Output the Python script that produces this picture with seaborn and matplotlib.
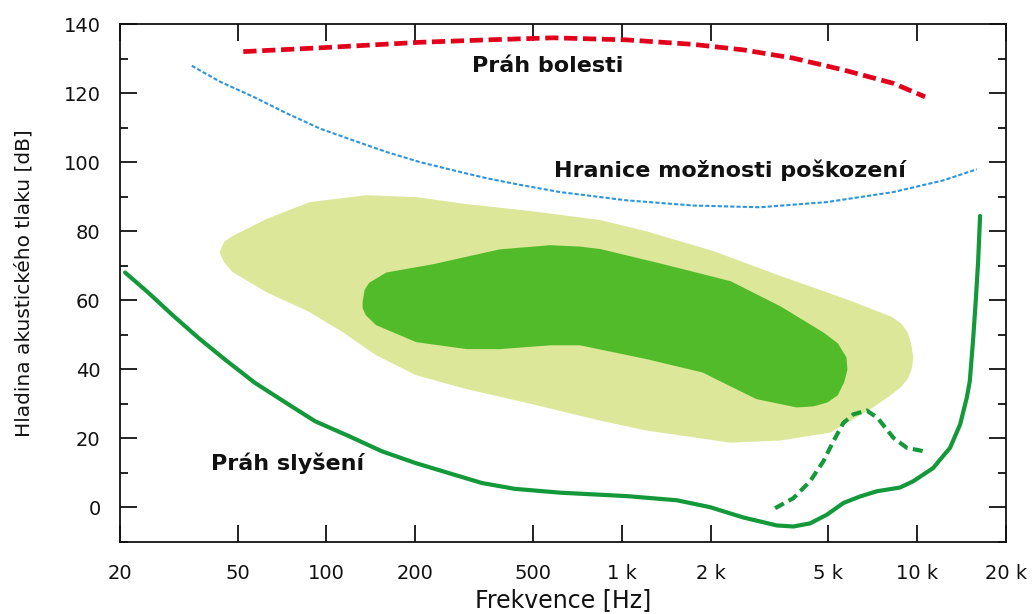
import numpy as np
import pandas as pd
import matplotlib
matplotlib.use("Agg")
import matplotlib.pyplot as plt
from matplotlib.ticker import FixedLocator, NullLocator, MultipleLocator
import seaborn as sns

# values (frequency in Hz, level in dB)
pain_f = [52.3, 95.1, 207, 349, 587, 1040, 1748, 2582, 3811, 5628, 8312, 10640]
pain_db = [132.0, 133.1, 134.7, 135.4, 136.0, 135.4, 134.1, 132.5, 130.1, 126.7, 122.8, 118.9]

damage_f = [35.0, 43.6, 56.6, 73.4, 95.1, 123, 160, 207, 269, 349, 452, 618, 1040, 1748,
            2940, 4946, 8312, 12280, 15920]
damage_db = [127.9, 123.3, 118.9, 114.1, 109.7, 106.3, 102.9, 100.0, 97.6, 95.3, 93.4, 91.3,
             88.9, 87.4, 86.9, 88.4, 91.3, 94.7, 97.9]

hear_f = [20.8, 24.9, 29.9, 36.8, 45.3, 57.3, 74.3, 91.5, 119, 154, 200, 259, 336, 435, 618,
          1040, 1536, 1990, 2582, 3349, 3811, 4341, 4946, 5628, 6411, 7304, 8758, 9700,
          11320, 12930, 13990, 14730, 15080, 15460, 15800, 16100, 16340]
hear_db = [68.0, 62.2, 55.9, 49.1, 42.8, 36.0, 29.8, 24.9, 20.6, 16.2, 12.8, 9.9, 7.0, 5.3, 4.2,
           3.2, 2.0, 0.0, -3.0, -5.3, -5.6, -4.7, -2.2, 1.2, 3.1, 4.6, 5.7, 7.5,
           11.3, 17.2, 24.0, 31.7, 36.5, 48.0, 59.8, 71.4, 84.4]

hear2_f = [3304, 3811, 4341, 4816, 5207, 5628, 6085, 6755, 7340, 8312, 9230, 10530]
hear2_db = [-0.3, 2.6, 7.5, 13.3, 19.1, 24.4, 26.9, 28.0, 25.9, 20.1, 17.2, 16.2]

# music area (light) and speech area (dark) outlines
music_f = [44.2, 45.5, 48.3, 62.8, 88, 137, 202, 299, 501, 844, 1215, 2038, 3436, 5780, 8100,
           8758, 9230, 9474, 9600, 9474, 9230, 8758, 8100, 6930, 5075, 3436, 2327, 1215, 844,
           501, 299, 202, 148, 114, 88, 62.8, 48.3, 45.3, 44.2]
music_db = [74.3, 76.7, 78.2, 83.1, 88, 90, 89.4, 87.4, 85.3, 82.8, 79.5, 73.8, 66.6, 59.8, 54.9,
            53.0, 50.2, 46.7, 43.3, 39.9, 37.5, 35.1, 32.8, 28.8, 22.0, 19.7, 19.1, 22.6, 25.5,
            30.2, 34.6, 38.6, 44.4, 51.1, 56.9, 62.7, 68.5, 71.4, 73.4]

speech_f = [134, 135.9, 140.5, 160, 230, 387, 572, 722, 844, 934, 1380, 2327, 3436, 4806, 5346,
            5704, 5747, 5616, 5346, 4946, 4453, 3913, 2866, 2204, 1885, 1215, 722, 572, 387,
            299, 202, 148, 137, 134]
speech_db = [59.3, 62.7, 64.7, 67.6, 70.0, 74.3, 75.5, 75.1, 74.4, 73.5, 70.0, 65.1, 57.8, 50.2,
             47.2, 43.3, 39.9, 36.5, 32.7, 30.7, 29.6, 29.3, 31.7, 36.5, 39.4, 43.3, 47.3, 47.3,
             46.2, 46.2, 48.2, 53.1, 55.9, 57.8]

xticks = [20, 50, 100, 200, 500, 1000, 2000, 5000, 10000, 20000]
xlabels = ["20", "50", "100", "200", "500", "1 k", "2 k", "5 k", "10 k", "20 k"]

sns.set_style("ticks")
plt.rcParams["font.family"] = ["DejaVu Sans"]
ink = "#111111"

fig = plt.figure(figsize=(10.32, 6.14), dpi=100)
ax = fig.add_axes([0.1163, 0.1178, 0.8585, 0.8431])

ax.fill(music_f, music_db, color="#dce79a", lw=2, ec="#dce79a", joinstyle="round", zorder=1)
ax.fill(speech_f, speech_db, color="#52bb2a", lw=2, ec="#52bb2a", joinstyle="round", zorder=2)

green = "#13993a"
sns.lineplot(x=pain_f, y=pain_db, ax=ax, sort=False, estimator=None, color="#e3001b",
             linewidth=3.4, linestyle=(0, (2.8, 1.2)), zorder=3)
sns.lineplot(x=damage_f, y=damage_db, ax=ax, sort=False, estimator=None, color="#2c95dd",
             linewidth=1.5, linestyle=(0, (2, 1)), zorder=3)
sns.lineplot(x=hear_f, y=hear_db, ax=ax, sort=False, estimator=None, color=green,
             linewidth=3.0, zorder=3)
sns.lineplot(x=hear2_f, y=hear2_db, ax=ax, sort=False, estimator=None, color=green,
             linewidth=3.0, linestyle=(0, (2.4, 1.3)), zorder=3)

ax.set_xscale("log")
ax.set_xlim(20, 20000)
ax.set_ylim(-10, 140)
ax.xaxis.set_major_locator(FixedLocator(xticks))
ax.xaxis.set_minor_locator(NullLocator())
ax.set_xticklabels(xlabels)
ax.yaxis.set_major_locator(MultipleLocator(20))
ax.yaxis.set_minor_locator(MultipleLocator(10))

ax.tick_params(which="both", direction="in", top=True, right=True, width=1.3,
               colors=ink, labelsize=14)
ax.tick_params(axis="x", pad=16)
ax.tick_params(axis="y", pad=14)
ax.tick_params(which="major", length=12)
ax.tick_params(which="minor", length=6)
for s in ax.spines.values():
    s.set_linewidth(1.3)
    s.set_color(ink)

ax.set_xlabel("Frekvence [Hz]", fontsize=17, color=ink, labelpad=4)
ax.set_ylabel("Hladina akustického tlaku [dB]", fontsize=14.5, color=ink, labelpad=22)

ax.text(562, 127.8, "Práh bolesti", fontsize=16, fontweight="bold", ha="center", va="center", color=ink)
ax.text(2326, 97.6, "Hranice možnosti poškození", fontsize=16, fontweight="bold", ha="center", va="center", color=ink)
ax.text(73.9, 12.8, "Práh slyšení", fontsize=16, fontweight="bold", ha="center", va="center", color=ink)

fig.savefig("out.png", dpi=100)
